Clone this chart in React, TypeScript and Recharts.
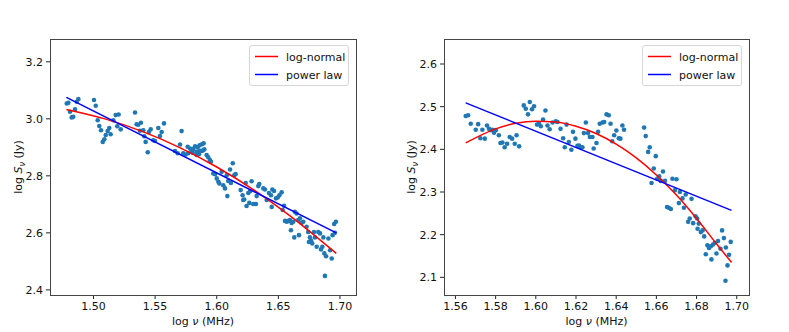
import React from "react";
import { ComposedChart, Scatter, Line, XAxis, YAxis } from "recharts";

// ---------- Left panel data ----------
const leftFreq = [
  1.4783, 1.4796, 1.4809, 1.4823, 1.4836, 1.485, 1.4864, 1.4877, 1.5004, 1.5018,
  1.5034, 1.5047, 1.5061, 1.5075, 1.5088, 1.5099, 1.5115, 1.5128, 1.5139, 1.5161,
  1.518, 1.5204, 1.5193, 1.5221, 1.5337, 1.535, 1.5363, 1.5385, 1.5377, 1.5404,
  1.5412, 1.5423, 1.544, 1.545, 1.5464, 1.5485, 1.5499, 1.5526, 1.5539, 1.5553,
  1.5572, 1.5715, 1.5702, 1.5661, 1.5683, 1.5728, 1.5748, 1.5764, 1.5783, 1.5796,
  1.581, 1.5824, 1.5845, 1.5861, 1.588, 1.5894, 1.5769, 1.5805, 1.5837, 1.5856,
  1.5878, 1.5899, 1.5837, 1.5864, 1.5891, 1.5918, 1.5931, 1.5945, 1.5953, 1.5972,
  1.5986, 1.6, 1.6013, 1.6021, 1.6053, 1.6067, 1.6086, 1.604, 1.6081, 1.6108,
  1.613, 1.6093, 1.6115, 1.6142, 1.6153, 1.6194, 1.621, 1.6223, 1.6215, 1.6235,
  1.6256, 1.627, 1.6242, 1.6264, 1.6283, 1.6296, 1.6318, 1.6324, 1.6337, 1.6345,
  1.6378, 1.6391, 1.6405, 1.6424, 1.644, 1.6451, 1.6465, 1.6446, 1.6481, 1.6495,
  1.6508, 1.6527, 1.6535, 1.6546, 1.6554, 1.6568, 1.6581, 1.6594, 1.6608, 1.6621,
  1.6602, 1.6629, 1.6634, 1.6648, 1.6661, 1.6675, 1.6689, 1.6702, 1.6667, 1.6729,
  1.6742, 1.6756, 1.6748, 1.6764, 1.6775, 1.6789, 1.6797, 1.6811, 1.6824, 1.6838,
  1.6846, 1.6857, 1.6865, 1.6873, 1.6887, 1.6906, 1.692, 1.6933, 1.6878, 1.694,
  1.6953, 1.6967, 1.6959,
];
const leftFlux = [
  3.054, 3.056, 3.025, 3.005, 3.007, 3.033, 3.06, 3.069, 3.066, 3.046,
  2.995, 2.975, 2.96, 2.919, 2.928, 2.943, 2.957, 2.968, 2.946, 2.995,
  3.013, 3.015, 2.974, 2.963, 3.022, 2.981, 2.979, 2.986, 2.958, 2.96,
  2.939, 2.919, 2.883, 2.954, 2.963, 2.925, 2.922, 2.968, 2.94, 2.954,
  2.984, 2.957, 2.91, 2.887, 2.879, 2.879, 2.875, 2.902, 2.896, 2.888,
  2.894, 2.904, 2.9, 2.907, 2.911, 2.914, 2.879, 2.881, 2.873, 2.876,
  2.887, 2.893, 2.884, 2.888, 2.89, 2.873, 2.865, 2.855, 2.849, 2.808,
  2.806, 2.791, 2.779, 2.773, 2.767, 2.756, 2.729, 2.814, 2.802, 2.822,
  2.844, 2.782, 2.775, 2.802, 2.806, 2.75, 2.732, 2.717, 2.715, 2.775,
  2.74, 2.746, 2.694, 2.705, 2.781, 2.701, 2.701, 2.729, 2.764, 2.771,
  2.756, 2.752, 2.715, 2.74, 2.732, 2.752, 2.747, 2.691, 2.721, 2.724,
  2.732, 2.742, 2.68, 2.695, 2.642, 2.639, 2.642, 2.645, 2.635, 2.639,
  2.609, 2.584, 2.674, 2.668, 2.645, 2.651, 2.635, 2.639, 2.592, 2.621,
  2.603, 2.584, 2.568, 2.574, 2.563, 2.603, 2.584, 2.551, 2.603, 2.598,
  2.542, 2.551, 2.584, 2.528, 2.518, 2.58, 2.539, 2.51, 2.449, 2.592,
  2.631, 2.639, 2.6,
];
const leftLogNormalX = [1.478, 1.51, 1.54, 1.57, 1.6, 1.63, 1.66, 1.697];
const leftLogNormalY = [3.033, 2.999, 2.955, 2.899, 2.831, 2.751, 2.658, 2.528];
const leftPowerX = [1.478, 1.697];
const leftPowerY = [3.075, 2.6];
const leftXTicks = [1.5, 1.55, 1.6, 1.65, 1.7];
const leftYTicks = [2.4, 2.6, 2.8, 3.0, 3.2];

// ---------- Right panel data ----------
const rightFreq = [
  1.5651, 1.5663, 1.5676, 1.5701, 1.5713, 1.5724, 1.5734, 1.5746, 1.5757, 1.5767,
  1.5776, 1.5784, 1.5792, 1.5801, 1.5816, 1.5824, 1.5834, 1.5845, 1.5857, 1.587,
  1.5882, 1.5895, 1.5904, 1.5917, 1.594, 1.595, 1.5961, 1.597, 1.5981, 1.5991,
  1.6006, 1.6016, 1.6025, 1.6036, 1.6048, 1.6058, 1.6069, 1.6083, 1.6099, 1.6108,
  1.6123, 1.6136, 1.6144, 1.6153, 1.6164, 1.6177, 1.6185, 1.6197, 1.6207, 1.6215,
  1.6224, 1.6232, 1.6239, 1.6249, 1.626, 1.6269, 1.6282, 1.6288, 1.6302, 1.631,
  1.6318, 1.6332, 1.634, 1.6352, 1.6363, 1.6372, 1.638, 1.639, 1.6401, 1.6413,
  1.6421, 1.6431, 1.6439, 1.6539, 1.6547, 1.6567, 1.6559, 1.6597, 1.6587, 1.6576,
  1.6604, 1.6614, 1.6622, 1.6633, 1.6643, 1.668, 1.67, 1.6692, 1.6717, 1.673,
  1.6746, 1.6775, 1.6712, 1.6653, 1.6662, 1.6672, 1.6737, 1.6758, 1.6766, 1.6783,
  1.6795, 1.6803, 1.6811, 1.6805, 1.6821, 1.683, 1.6838, 1.6854, 1.6862, 1.6871,
  1.6846, 1.6874, 1.6882, 1.6891, 1.6899, 1.6907, 1.6919, 1.6927, 1.6936, 1.6946,
  1.6954, 1.6962, 1.697, 1.6944,
];
const rightFlux = [
  2.478, 2.48, 2.46, 2.446, 2.459, 2.426, 2.446, 2.425, 2.456, 2.448,
  2.445, 2.446, 2.439, 2.445, 2.433, 2.415, 2.416, 2.405, 2.413, 2.429,
  2.425, 2.413, 2.433, 2.407, 2.503, 2.495, 2.482, 2.511, 2.494, 2.501,
  2.458, 2.46, 2.454, 2.47, 2.491, 2.456, 2.447, 2.463, 2.466, 2.464,
  2.448, 2.426, 2.405, 2.458, 2.417, 2.399, 2.441, 2.425, 2.408, 2.409,
  2.405, 2.405, 2.438, 2.463, 2.438, 2.429, 2.429, 2.402, 2.415, 2.441,
  2.46, 2.463, 2.464, 2.482, 2.48, 2.46, 2.419, 2.433, 2.444, 2.426,
  2.425, 2.456, 2.446, 2.451, 2.431, 2.405, 2.394, 2.384, 2.355, 2.321,
  2.331, 2.337, 2.326, 2.348, 2.326, 2.331, 2.33, 2.304, 2.3, 2.285,
  2.294, 2.284, 2.274, 2.265, 2.263, 2.26, 2.263, 2.23, 2.238, 2.227,
  2.243, 2.238, 2.226, 2.214, 2.206, 2.21, 2.196, 2.175, 2.169, 2.173,
  2.154, 2.142, 2.177, 2.181, 2.156, 2.185, 2.167, 2.21, 2.192, 2.17,
  2.128, 2.153, 2.183, 2.092,
];
const rightLogNormalX = [1.5651, 1.58, 1.59, 1.6, 1.61, 1.62, 1.63, 1.64, 1.65, 1.66, 1.67, 1.68, 1.69, 1.6974];
const rightLogNormalY = [2.415, 2.448, 2.461, 2.466, 2.464, 2.454, 2.437, 2.412, 2.38, 2.34, 2.293, 2.238, 2.178, 2.135];
const rightPowerX = [1.5651, 1.6974];
const rightPowerY = [2.509, 2.257];
const rightXTicks = [1.56, 1.58, 1.6, 1.62, 1.64, 1.66, 1.68, 1.7];
const rightYTicks = [2.1, 2.2, 2.3, 2.4, 2.5, 2.6];

const seriesNames = ["log-normal", "power law"];

const zip = (xs: number[], ys: number[]) => xs.map((x, i) => ({ x, y: ys[i] }));

const FONT = "'DejaVu Sans', sans-serif";
const DOT = "#1f77b4";

const dotShape = (props: any) => (
  <circle cx={props.cx} cy={props.cy} r={2.3} fill={DOT} stroke="none" />
);

type PanelProps = {
  left: number;
  plotW: number;
  xDomain: [number, number];
  yDomain: [number, number];
  xTicks: number[];
  yTicks: number[];
  pts: { x: number; y: number }[];
  logn: { x: number; y: number }[];
  pow: { x: number; y: number }[];
  yLabelX: number;
};

const PLOT_TOP = 39;
const PLOT_H = 256;
const YAXIS_W = 50;

function Axes(props: { p: PanelProps; visible: boolean }) {
  const { p, visible } = props;
  return [
    <XAxis
      key="x"
      type="number"
      dataKey="x"
      domain={p.xDomain}
      ticks={p.xTicks}
      allowDataOverflow
      height={37}
      tickSize={4}
      tickMargin={3}
      axisLine={false}
      tickLine={visible ? { stroke: "#222" } : false}
      tickFormatter={(v: number) => v.toFixed(2)}
      tick={visible ? { fontSize: 11, fill: "#111", fontFamily: FONT } : false}
      interval={0}
    />,
    <YAxis
      key="y"
      type="number"
      dataKey="y"
      domain={p.yDomain}
      ticks={p.yTicks}
      allowDataOverflow
      width={YAXIS_W}
      tickSize={4}
      tickMargin={3}
      axisLine={false}
      tickLine={visible ? { stroke: "#222" } : false}
      tickFormatter={(v: number) => v.toFixed(1)}
      tick={visible ? { fontSize: 11, fill: "#111", fontFamily: FONT } : false}
      interval={0}
    />,
  ];
}

function Panel(p: PanelProps) {
  const chartW = YAXIS_W + p.plotW + 10;
  const plotLeft = p.left + YAXIS_W;
  const centerY = PLOT_TOP + PLOT_H / 2;
  const margin = { top: PLOT_TOP, right: 10, bottom: 0, left: 0 };
  return (
    <>
      {/* scatter layer */}
      <div style={{ position: "absolute", left: p.left, top: 0 }}>
        <ComposedChart width={chartW} height={332} margin={margin}>
          {Axes({ p, visible: true })}
          <Scatter data={p.pts} dataKey="y" shape={dotShape} isAnimationActive={false} />
        </ComposedChart>
      </div>
      {/* fitted lines layer, drawn on top of the points */}
      <div style={{ position: "absolute", left: p.left, top: 0, pointerEvents: "none" }}>
        <ComposedChart width={chartW} height={332} margin={margin}>
          {Axes({ p, visible: false })}
          <Line
            data={p.logn}
            dataKey="y"
            type="monotone"
            stroke="#ff0000"
            strokeWidth={1.5}
            dot={false}
            isAnimationActive={false}
          />
          <Line
            data={p.pow}
            dataKey="y"
            type="linear"
            stroke="#0000ff"
            strokeWidth={1.5}
            dot={false}
            isAnimationActive={false}
          />
        </ComposedChart>
      </div>
      {/* axes frame */}
      <div
        style={{
          position: "absolute",
          left: plotLeft - 0.5,
          top: PLOT_TOP - 0.5,
          width: p.plotW + 1,
          height: PLOT_H + 1,
          border: "1px solid #444",
          boxSizing: "border-box",
          pointerEvents: "none",
        }}
      />
      {/* axis titles */}
      <svg
        style={{ position: "absolute", left: 0, top: 0, pointerEvents: "none" }}
        width={789}
        height={332}
      >
        <text
          x={plotLeft + p.plotW / 2}
          y={325}
          textAnchor="middle"
          fontSize={11}
          fontFamily={FONT}
          fill="#111"
        >
          log <tspan fontStyle="italic">ν</tspan> (MHz)
        </text>
        <text
          transform={`translate(${p.yLabelX},${centerY}) rotate(-90)`}
          textAnchor="middle"
          fontSize={11}
          fontFamily={FONT}
          fill="#111"
        >
          log <tspan fontStyle="italic">S</tspan>
          <tspan fontStyle="italic" fontSize={8} dy={3}>ν</tspan>
          <tspan dy={-3}> (Jy)</tspan>
        </text>
      </svg>
      {/* legend */}
      <div
        style={{
          position: "absolute",
          left: plotLeft + p.plotW - 107,
          top: 45,
          width: 100,
          height: 41,
          background: "rgba(255,255,255,0.85)",
          border: "1px solid #d6d6d6",
          borderRadius: 3,
          boxSizing: "border-box",
          pointerEvents: "none",
        }}
      >
        <svg width={100} height={41} style={{ position: "absolute", left: 0, top: 0 }}>
          <line x1={5} x2={28} y1={10.5} y2={10.5} stroke="#ff0000" strokeWidth={1.5} />
          <line x1={5} x2={28} y1={28.5} y2={28.5} stroke="#0000ff" strokeWidth={1.5} />
          <text x={36} y={14.5} fontSize={11} fontFamily={FONT} fill="#111">
            {seriesNames[0]}
          </text>
          <text x={36} y={32.5} fontSize={11} fontFamily={FONT} fill="#111">
            {seriesNames[1]}
          </text>
        </svg>
      </div>
    </>
  );
}

export default function App() {
  return (
    <div
      style={{
        position: "absolute",
        left: 0,
        top: 0,
        width: 789,
        height: 332,
        background: "#fff",
        overflow: "hidden",
      }}
    >
      <Panel
        left={0}
        plotW={306}
        xDomain={[1.4647, 1.713]}
        yDomain={[2.382, 3.28]}
        xTicks={leftXTicks}
        yTicks={leftYTicks}
        pts={zip(leftFreq, leftFlux)}
        logn={zip(leftLogNormalX, leftLogNormalY)}
        pow={zip(leftPowerX, leftPowerY)}
        yLabelX={22}
      />
      <Panel
        left={394}
        plotW={305}
        xDomain={[1.5543, 1.7061]}
        yDomain={[2.0586, 2.6586]}
        xTicks={rightXTicks}
        yTicks={rightYTicks}
        pts={zip(rightFreq, rightFlux)}
        logn={zip(rightLogNormalX, rightLogNormalY)}
        pow={zip(rightPowerX, rightPowerY)}
        yLabelX={415}
      />
    </div>
  );
}
